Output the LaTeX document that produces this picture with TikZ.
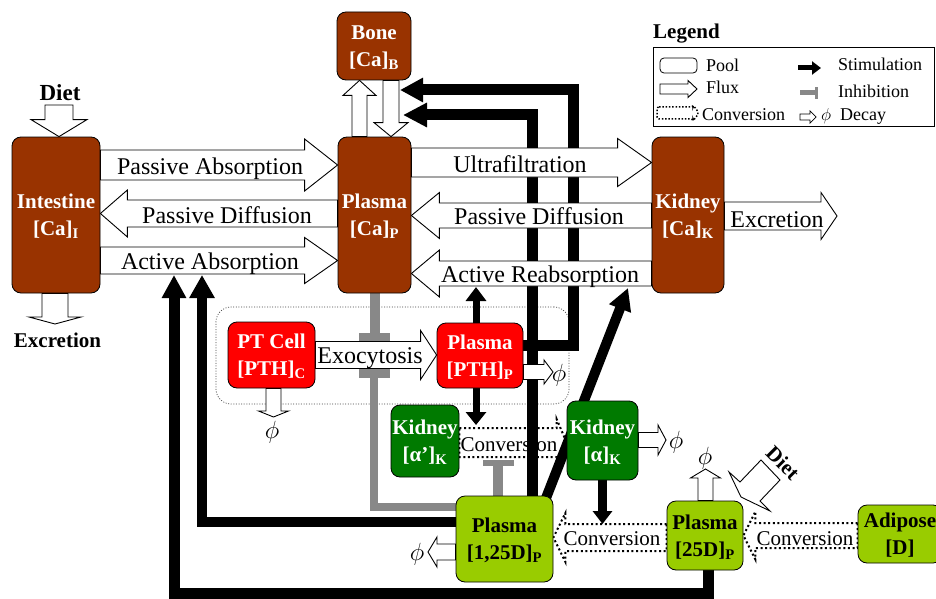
\documentclass[tikz,border=0pt]{standalone}
\usepackage{fontspec}
\setmainfont{Liberation Serif}
\usetikzlibrary{arrows.meta,calc}
\definecolor{brn}{HTML}{993300}
\definecolor{ptred}{HTML}{FF0000}
\definecolor{kgreen}{HTML}{007A00}
\definecolor{ygreen}{HTML}{99CC00}
\definecolor{inhgray}{HTML}{888888}
\newcommand\poolfont{\fontsize{21}{27}\selectfont\bfseries}
\newcommand\fluxfont{\fontsize{24}{28}\selectfont}
\newcommand\convfont{\fontsize{21}{24}\selectfont}
\newcommand\legfont{\fontsize{18}{20}\selectfont}
\pgfdeclarelayer{bg}\pgfdeclarelayer{mid}\pgfsetlayers{bg,mid,main}
% horizontal hollow arrow: [opts]{tail}{tip}{y}{half shaft}{half head}{head length}
\newcommand\hflux[7][]{%
 \draw[fluxsty,#1] let \p1=(#2), \p2=(#3), \n1={#7*(\x2-\x1)/abs(\x2-\x1)} in
   (\x1,{-(#4-#5)*1pt}) -- ({\x2-(\n1)*1pt},{-(#4-#5)*1pt}) -- ({\x2-(\n1)*1pt},{-(#4-#6)*1pt})
   -- (\x2,{-(#4)*1pt}) -- ({\x2-(\n1)*1pt},{-(#4+#6)*1pt}) -- ({\x2-(\n1)*1pt},{-(#4+#5)*1pt})
   -- (\x1,{-(#4+#5)*1pt}) -- cycle;}
% vertical hollow arrow: [opts]{tail}{tip}{x}{half shaft}{half head}{head length}
\newcommand\vflux[7][]{%
 \draw[fluxsty,#1] let \p1=(#2), \p2=(#3), \n1={#7*(\y2-\y1)/abs(\y2-\y1)} in
   ({(#4-#5)*1pt},\y1) -- ({(#4-#5)*1pt},{\y2-(\n1)*1pt}) -- ({(#4-#6)*1pt},{\y2-(\n1)*1pt})
   -- ({(#4)*1pt},\y2) -- ({(#4+#6)*1pt},{\y2-(\n1)*1pt}) -- ({(#4+#5)*1pt},{\y2-(\n1)*1pt})
   -- ({(#4+#5)*1pt},\y1) -- cycle;}
\tikzset{
 pool/.style={draw=black, line width=0.8pt, rounded corners=9pt, inner sep=0pt,
   align=center, font=\poolfont, text=white, text depth=0pt},
 fluxsty/.style={draw=black, fill=white, line width=0.9pt, line join=miter},
 convsty/.style={draw=black, fill=white, line width=2pt, dash pattern=on 2pt off 2.6pt},
 lbl/.style={font=\fluxfont, anchor=base, inner sep=0pt},
 clbl/.style={font=\convfont, anchor=base, inner sep=0pt},
 leg/.style={font=\legfont, anchor=base west, inner sep=0pt},
 phis/.style={font=\fontsize{24}{24}\selectfont, inner sep=0pt},
 stim/.style={draw=black, line width=#1},
 inhib/.style={draw=inhgray, line width=#1},
}
\begin{document}
\begin{tikzpicture}[x=1pt,y=-1pt]
\useasboundingbox (0,0) rectangle (936,599);
\clip (0,0) rectangle (936,599);

% ---------- pools ----------
\node[pool, fill=brn, minimum width=88pt, minimum height=156pt] (int) at (56,215) {Intestine\\{}[Ca]\textsubscript{I}};
\node[pool, fill=brn, minimum width=73pt, minimum height=156pt] (plca) at (374.5,215) {Plasma\\{}[Ca]\textsubscript{P}};
\node[pool, fill=brn, minimum width=74pt, minimum height=68pt] (bone) at (374,46) {Bone\\{}[Ca]\textsubscript{B}};
\node[pool, fill=brn, minimum width=72pt, minimum height=156pt] (kidca) at (688,215) {Kidney\\{}[Ca]\textsubscript{K}};
\node[pool, fill=ptred, minimum width=87pt, minimum height=66pt] (ptc) at (271.5,355) {PT Cell\\{}[PTH]\textsubscript{C}};
\node[pool, fill=ptred, minimum width=86pt, minimum height=65pt] (pthp) at (480,355.5) {Plasma\\{}[PTH]\textsubscript{P}};
\node[pool, fill=kgreen, minimum width=68pt, minimum height=72pt] (ka1) at (425,441) {Kidney\\{}[α’]\textsubscript{K}};
\node[pool, fill=kgreen, minimum width=71pt, minimum height=79pt] (ka) at (602.5,440.5) {Kidney\\{}[α]\textsubscript{K}};
\node[pool, fill=ygreen, text=black, minimum width=97pt, minimum height=86pt] (d125) at (504.5,539) {Plasma\\{}[1,25D]\textsubscript{P}};
\node[pool, fill=ygreen, text=black, minimum width=76pt, minimum height=69pt] (d25) at (705,535.5) {Plasma\\{}[25D]\textsubscript{P}};
\node[pool, fill=ygreen, text=black, minimum width=84pt, minimum height=58pt] (adip) at (900,534) {Adipose\\{}[D]};

% ---------- free ends ----------
\coordinate (dietI) at (59,105);
\coordinate (exI) at (55,324);
\coordinate (exK) at (837,216);
\coordinate (dPC) at (273.5,417);
\coordinate (dPP) at (553,372);
\coordinate (dKa) at (666,440);
\coordinate (d25d) at (705.5,469);
\coordinate (d125d) at (428,552);
\coordinate (cB1) at (573,90);
\coordinate (tB1) at (400,90);
\coordinate (cB2) at (532,115);
\coordinate (tB2) at (403,115);
\coordinate (tAR) at (628,288);
\coordinate (tAA1) at (202,275);
\coordinate (tAA2) at (174,275);
\coordinate (tPu) at (476,287);
\coordinate (tPd) at (476,425);
\coordinate (tKd) at (602.5,524);
\coordinate (iB1) at (374.5,341);
\coordinate (iB2) at (374,369);
\coordinate (iB3) at (498,460);

% ---------- background: region, conversions, regulation ----------
\begin{pgfonlayer}{bg}
\node[draw=black!75, line width=0.7pt, dash pattern=on 1pt off 1.6pt, rounded corners=15pt,
  minimum width=353pt, minimum height=97pt, inner sep=0pt] (pthreg) at (392.5,355.5) {};

\hflux[convsty]{ka1.east}{ka.west}{442.5}{14.5}{23.5}{10}
\node[clbl] (lC1) at (509,451) {Conversion};
\hflux[convsty]{d25.west}{d125.east}{537.5}{13.5}{24.5}{12}
\node[clbl] (lC2) at (612,545) {Conversion};
\hflux[convsty]{adip.west}{d25.east}{535.5}{12.5}{24}{12}
\node[clbl] (lC3) at (805,545) {Conversion};

% inhibition
\draw[inhib=10pt, -{Rectangle[length=8pt,width=31pt]}] (plca.south) -- (iB1);
\draw[inhib=8pt, -{Rectangle[length=9pt,width=31pt]}] ([yshift=32pt]d125.west) -| (iB2);
\draw[inhib=10pt, -{Rectangle[length=6pt,width=31pt]}] ([xshift=-6.5pt]d125.north) -- (iB3);

% stimulation
\draw[stim=11pt, -{Triangle[length=23pt,width=23pt]}] ([yshift=10.5pt]pthp.east) -| (cB1) -- (tB1);
\draw[stim=11pt, -{Triangle[length=24pt,width=23pt]}] ([xshift=27.5pt]d125.north) -- (cB2) -- (tB2);
\draw[stim=10pt, -{Triangle[length=22pt,width=22pt]}] ([xshift=-8pt,yshift=-4pt]d125.north east) -- (tAR);
\draw[stim=10pt, -{Triangle[length=23pt,width=24pt]}] ([yshift=17pt]d125.west) -| (tAA1);
\draw[stim=11pt, -{Triangle[length=23pt,width=23pt]}] ([xshift=3pt]d25.south) -- ++(0,23) -| (tAA2);
\draw[stim=7pt, -{Triangle[length=14pt,width=20pt]}] ([xshift=-4pt]pthp.north) -- (tPu);
\draw[stim=7pt, -{Triangle[length=13pt,width=20pt]}] ([xshift=-4pt]pthp.south) -- (tPd);
\draw[stim=9pt, -{Triangle[length=13pt,width=19pt]}] (ka.south) -- (tKd);
\end{pgfonlayer}

% ---------- fluxes ----------
\begin{pgfonlayer}{mid}
\hflux{int.east}{plca.west}{165}{15}{26}{33}
\node[lbl] (lPA) at (210,174) {Passive Absorption};
\hflux{plca.west}{int.east}{213.5}{13.5}{23.5}{27}
\node[lbl] (lPDi) at (227,223) {Passive Diffusion};
\hflux{int.east}{plca.west}{260.5}{13.5}{23}{33}
\node[lbl] (lAA) at (210,269) {Active Absorption};
\hflux{plca.east}{kidca.west}{162.5}{14.5}{24}{34}
\node[lbl] (lUF) at (520,172) {Ultrafiltration};
\hflux{kidca.west}{plca.east}{215.5}{12.5}{23}{28}
\node[lbl] (lPDk) at (539,224) {Passive Diffusion};
\hflux{kidca.west}{plca.east}{273.5}{12.5}{23.5}{28}
\node[lbl] (lAR) at (540,282) {Active Reabsorption};
\hflux{kidca.east}{exK}{216}{14}{23.5}{16}
\node[lbl] (lEx) at (777,227) {Excretion};
\hflux{ptc.east}{pthp.west}{355}{13.5}{24.5}{16}
\node[lbl] (lExo) at (370,363) {Exocytosis};
\vflux{dietI}{int.north}{59}{14}{28}{17}
\node[font=\fontsize{23}{26}\selectfont\bfseries, anchor=base, inner sep=0pt] (dietIl) at (60,101) {Diet};
\vflux{int.south}{exI}{55}{13}{26}{7}
\node[font=\poolfont, anchor=base, inner sep=0pt] (exIl) at (57.5,347) {Excretion};
\vflux{plca.north}{bone.south}{359.5}{7.5}{16.5}{15}
\vflux{bone.south}{plca.north}{391}{8}{17}{14}
% decay
\vflux{ptc.south}{dPC}{273.5}{7.5}{15}{6}
\node[phis] (phi1) at (272,432) {$\phi$};
\hflux{pthp.east}{dPP}{372}{7.5}{12}{9}
\node[phis] (phi2) at (559,375) {$\phi$};
\hflux{ka.east}{dKa}{440}{7.5}{15}{8}
\node[phis] (phi3) at (676,442) {$\phi$};
\vflux{d25.north}{d25d}{705.5}{7.5}{15}{9}
\node[phis] (phi4) at (705,458) {$\phi$};
\hflux{d125.west}{d125d}{552}{8}{15}{9}
\node[phis] (phi5) at (417,554) {$\phi$};
% vitamin D diet
\draw[fluxsty] (740,482) -- (761,460) -- (780,480) -- (760,501) -- (770,511) -- (741,497) -- (729,472) -- cycle;
\node[font=\fontsize{21}{24}\selectfont\bfseries, rotate=-45, inner sep=0pt] (dietD) at (783,463) {Diet};
\end{pgfonlayer}

% ---------- legend ----------
\node[font=\fontsize{21}{24}\selectfont\bfseries, anchor=base west, inner sep=0pt] (legt) at (653,39) {Legend};
\node[draw=black, line width=1pt, minimum width=281pt, minimum height=78pt, inner sep=0pt] (legbox) at (793.5,87) {};
\node[draw=black, line width=0.8pt, rounded corners=4pt, minimum width=37pt, minimum height=15pt, inner sep=0pt] (legpool) at (678.5,65.5) {};
\node[leg] (legpoolt) at (706,72) {Pool};
\coordinate (lfa) at (660,89);
\coordinate (lfb) at (697,89);
\hflux{lfa}{lfb}{89}{5}{8.5}{9}
\node[leg] (legfluxt) at (706,94) {Flux};
\coordinate (lca) at (657,113);
\coordinate (lcb) at (699,113);
\hflux[convsty, line width=1.5pt, dash pattern=on 1.5pt off 1.8pt, rounded corners=2pt]{lca}{lcb}{113}{6}{8}{6}
\node[leg] (legconvt) at (702,121) {Conversion};
\coordinate (lsa) at (798,68);
\coordinate (lsb) at (821,68);
\draw[stim=5pt, -{Triangle[length=9pt,width=13pt]}] (lsa) -- (lsb);
\node[leg] (legstimt) at (838,71) {Stimulation};
\coordinate (lia) at (800,93);
\coordinate (lib) at (818,93);
\draw[inhib=5pt, -{Rectangle[length=3pt,width=12pt]}] (lia) -- (lib);
\node[leg] (leginht) at (838,98) {Inhibition};
\coordinate (lda) at (800,117);
\coordinate (ldb) at (816,117);
\hflux[line width=0.7pt]{lda}{ldb}{117}{3}{6}{6}
\node[font=\legfont, anchor=base, inner sep=0pt] (legphi) at (826,121) {$\phi$};
\node[leg] (legdect) at (840,121) {Decay};
\end{tikzpicture}
\end{document}
